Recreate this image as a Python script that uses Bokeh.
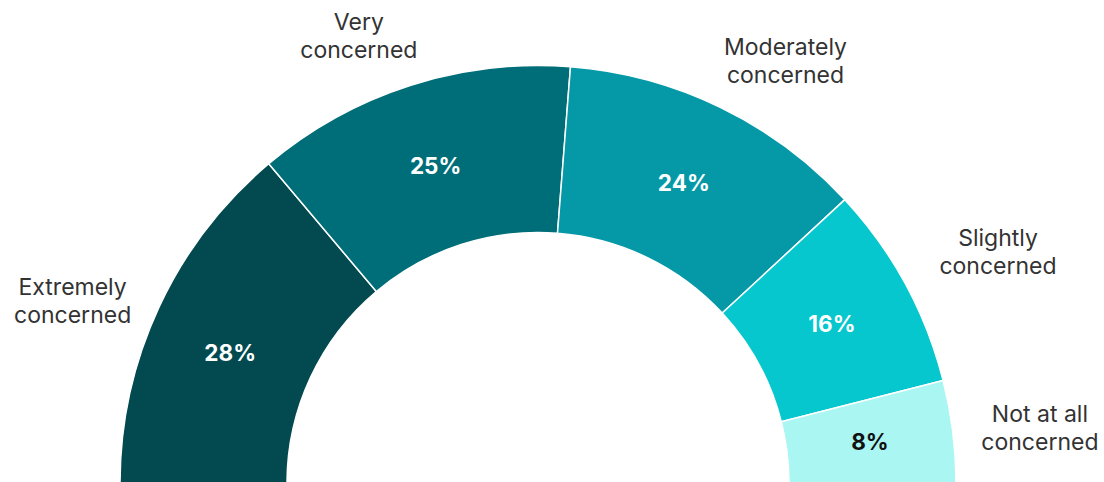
import math
from bokeh.plotting import figure
from bokeh.models import ColumnDataSource
from bokeh.core.properties import value
from bokeh.embed import file_html
from bokeh.resources import INLINE

categories = ["Extremely\nconcerned", "Very\nconcerned", "Moderately\nconcerned",
              "Slightly\nconcerned", "Not at all\nconcerned"]
values = [28, 25, 24, 16, 8]
pct_labels = ["28%", "25%", "24%", "16%", "8%"]
colors = ["#024a50", "#006e78", "#0599a8", "#06c7cd", "#aaf6f2"]
pct_colors = ["#ffffff", "#ffffff", "#ffffff", "#ffffff", "#111111"]

W, H = 1104, 482
cx, cy = 537.5, -1.0
r_in, r_out = 251.0, 418.0
r_pct = (r_in + r_out) / 2
# small angular nudges (degrees) and radii for the outside category labels
lab_nudge = [3.5, 4.0, -4.5, -1.8, -0.8]
lab_rad = [500, 482, 490, 515, 505]
pct_nudge = [1.9, 0, 0, 0, 0]

total = sum(values)
starts, ends, mids = [], [], []
cum = 0
for v in values:
    a_hi = math.pi - cum / total * math.pi
    cum += v
    a_lo = math.pi - cum / total * math.pi
    starts.append(a_lo)
    ends.append(a_hi)
    mids.append((a_lo + a_hi) / 2)

src = ColumnDataSource(dict(start=starts, end=ends, color=colors))

p = figure(width=W, height=H, x_range=(0, W), y_range=(0, H),
           output_backend="svg", toolbar_location=None, min_border=0)
p.axis.visible = False
p.grid.visible = False
p.outline_line_color = None
p.background_fill_color = "white"
p.border_fill_color = "white"

p.annular_wedge(x=cx, y=cy, inner_radius=r_in, outer_radius=r_out,
                start_angle="start", end_angle="end", fill_color="color",
                line_color="white", line_width=1.5, source=src)

px = [cx + r_pct * math.cos(m + math.radians(d)) for m, d in zip(mids, pct_nudge)]
py = [cy + r_pct * math.sin(m + math.radians(d)) for m, d in zip(mids, pct_nudge)]
p.text(x=px, y=py, text=pct_labels, text_color=pct_colors,
       text_font=value("Inter"), text_font_style="bold", text_font_size="22.5px",
       text_align="center", text_baseline="middle")

lx = [cx + r * math.cos(m + math.radians(d)) for m, d, r in zip(mids, lab_nudge, lab_rad)]
ly = [cy + r * math.sin(m + math.radians(d)) for m, d, r in zip(mids, lab_nudge, lab_rad)]
p.text(x=lx, y=ly, text=categories, text_color="#333333",
       text_font=value("Inter"), text_font_size="23px", text_line_height=1.0,
       text_align="center", text_baseline="middle")

open("out.html", "w").write(file_html(p, INLINE))
